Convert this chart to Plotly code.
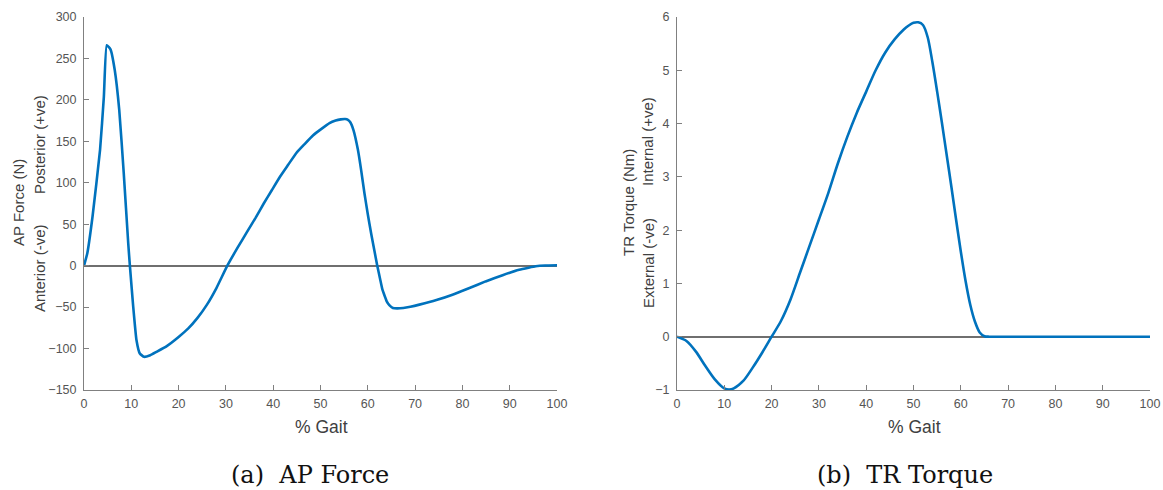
import plotly.graph_objects as go

# ---------------- data ----------------
gait_ap = [0, 0.7, 1.8, 3.4, 4.2, 4.8, 5.6, 6.5, 7.45, 8.4, 9.35, 9.7, 10.4, 11.1, 11.8, 12.7,
           14.0, 15.3, 17.5, 20.0, 22.0, 24.0, 26.0, 28.0, 30.3, 32.5, 34.5, 36.3, 38.0, 39.7,
           41.4, 43.2, 44.9, 46.7, 48.4, 50.2, 51.9, 53.2, 54.3, 55.2, 55.8, 56.3, 57.0,
           57.9, 58.6, 59.3, 60.0, 60.7, 61.4, 62.0, 62.6, 63.1, 63.6, 64.0, 64.6, 65.3, 66.2,
           67.5, 69.0, 70.9, 74.5, 77.9, 81.5, 84.9, 88.5, 92.0, 94.0, 95.5, 97.5, 100]
ap_force = [0, 15, 59, 140, 204, 266, 261, 236, 188, 112, 27, 0, -49, -90, -106, -110,
            -108, -104, -97, -86, -76, -63, -47, -27, 0, 22, 41, 58, 75, 91,
            107, 122, 136, 147, 157, 165, 172, 175, 176.5, 177, 176, 173, 163,
            140, 115, 87, 62, 39, 18, 0, -16, -29, -37, -43, -48, -51, -51.5,
            -51, -49.5, -47, -41.5, -35, -27, -19, -11.5, -5, -2.5, -0.8, 0.2, 0.5]

gait_tr = [0, 2, 4, 6, 8, 10, 11, 12, 14, 16, 18, 20, 22, 24, 26, 28, 30, 32, 34, 36, 38,
           40, 42, 44, 46, 48, 49, 50, 51, 52, 53, 54, 55, 56, 57, 58, 59, 60, 61, 62, 63,
           64, 65, 66, 70, 80, 90, 100]
tr_torque = [0, -0.08, -0.28, -0.55, -0.8, -0.97, -0.99, -0.97, -0.83, -0.58, -0.3, 0.0, 0.3,
             0.7, 1.2, 1.7, 2.2, 2.7, 3.25, 3.75, 4.2, 4.6, 5.0, 5.33, 5.58, 5.77, 5.84, 5.89,
             5.9, 5.85, 5.62, 5.15, 4.6, 4.02, 3.42, 2.82, 2.2, 1.6, 1.05, 0.6, 0.28,
             0.08, 0.01, 0.0, 0.0, 0.0, 0.0, 0.0]

ap_yticks = [-150, -100, -50, 0, 50, 100, 150, 200, 250, 300]
tr_yticks = [-1, 0, 1, 2, 3, 4, 5, 6]
x_ticks = [0, 10, 20, 30, 40, 50, 60, 70, 80, 90, 100]

W, H = 1163, 490
BLUE = "#0072BD"
AXC = "#808080"
TXT = "#555555"
SANS = "Liberation Sans, Arial, sans-serif"
SERIF = "DejaVu Serif, serif"


def fx(px):
    return px / W


def fy(py):
    return 1 - py / H


fig = go.Figure()
fig.add_trace(go.Scatter(x=gait_ap, y=ap_force, mode="lines", xaxis="x", yaxis="y",
                         line=dict(color=BLUE, width=2.6, shape="spline", smoothing=0.4),
                         showlegend=False))
fig.add_trace(go.Scatter(x=gait_tr, y=tr_torque, mode="lines", xaxis="x2", yaxis="y2",
                         line=dict(color=BLUE, width=2.6, shape="spline", smoothing=0.8),
                         showlegend=False))

ydom = [fy(390), fy(17)]

common_x = dict(range=[0, 100], tickvals=x_ticks, showline=True, linecolor=AXC, linewidth=1,
                ticks="inside", ticklen=5, tickcolor=AXC, showgrid=False, zeroline=False,
                automargin=False,
                tickfont=dict(family=SANS, size=12.5, color=TXT), ticklabelstandoff=2)
common_y = dict(showline=True, linecolor=AXC, linewidth=1, ticks="inside", ticklen=5,
                tickcolor=AXC, showgrid=False, zeroline=True, zerolinecolor="#6f6f6f",
                zerolinewidth=1.5, automargin=False,
                tickfont=dict(family=SANS, size=12.5, color=TXT), ticklabelstandoff=4)

fig.update_layout(
    width=W, height=H, margin=dict(l=0, r=0, t=0, b=0, autoexpand=False),
    paper_bgcolor="white", plot_bgcolor="white",
    xaxis=dict(domain=[fx(84), fx(557)], anchor="y", **common_x),
    yaxis=dict(domain=ydom, anchor="x", range=[-150, 300], tickvals=ap_yticks, **common_y),
    xaxis2=dict(domain=[fx(677), fx(1150)], anchor="y2", **common_x),
    yaxis2=dict(domain=ydom, anchor="x2", range=[-1, 6], tickvals=tr_yticks, **common_y),
)


def ann(text, px, py, size, family=SANS, angle=0, color="#404040"):
    fig.add_annotation(text=text, x=fx(px), y=fy(py), xref="paper", yref="paper",
                       xanchor="center", yanchor="middle", showarrow=False, textangle=angle,
                       font=dict(family=family, size=size, color=color))


# y-axis titles (rotated)
ann("AP Force (N)", 18.5, 202.5, 15, angle=-90)
ann("Anterior (-ve)", 39, 268, 15, angle=-90)
ann("Posterior (+ve)", 39, 145, 15, angle=-90)
ann("TR Torque (Nm)", 628, 203, 15, angle=-90)
ann("External (-ve)", 648, 263, 15, angle=-90)
ann("Internal (+ve)", 648, 142, 15, angle=-90)

# x-axis titles
ann("% Gait", 321, 427, 17.5)
ann("% Gait", 914.5, 427, 17.5)

# captions
ann("(a)\u00a0\u00a0AP Force", 310, 475, 24, family=SERIF, color="#111111")
ann("(b)\u00a0\u00a0TR Torque", 904.5, 475, 24, family=SERIF, color="#111111")

fig.write_html(
    "out.html",
    config={"displayModeBar": False},
    post_script="document.body.style.margin='0';document.body.style.overflow='hidden';",
)
